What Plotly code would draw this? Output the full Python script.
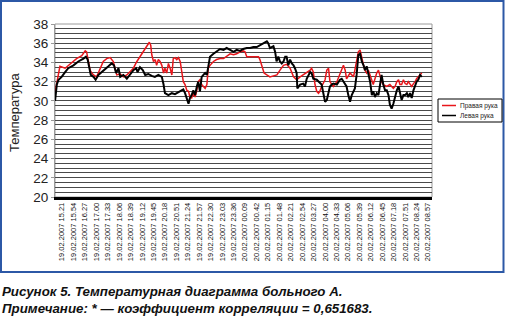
import plotly.graph_objects as go

# minutes after 19.02.2007 15:21
red_t = [-20, -15, -6, 9, 18, 33, 42, 57, 67, 71, 76, 81, 86, 91, 100, 110, 119, 129, 139, 148, 153, 158, 168, 177, 187, 196, 206, 216, 225, 235, 244, 252, 256, 259, 264, 269, 273, 278, 283, 288, 293, 297, 302, 307, 312, 317, 321, 326, 331, 336, 341, 345, 350, 355, 360, 365, 369, 374, 379, 384, 389, 393, 398, 403, 408, 413, 418, 422, 427, 437, 446, 456, 466, 475, 485, 495, 504, 514, 523, 528, 533, 543, 557, 567, 571, 576, 583, 591, 600, 610, 620, 629, 639, 648, 658, 668, 677, 687, 696, 706, 716, 720, 725, 730, 735, 740, 744, 749, 754, 759, 764, 769, 773, 783, 793, 802, 807, 812, 817, 821, 831, 841, 845, 850, 855, 860, 865, 870, 874, 879, 884, 889, 894, 898, 903, 908, 913, 918, 922, 927, 937, 946, 951, 956, 961, 966, 971, 975, 980, 985, 990, 995, 999, 1004, 1009, 1014, 1019, 1023, 1028, 1033, 1038]
red_v = [30.9, 32.0, 33.6, 33.4, 33.7, 34.1, 34.4, 34.7, 35.2, 35.1, 34.1, 33.2, 32.9, 32.7, 32.5, 33.4, 34.1, 34.4, 34.5, 34.1, 33.4, 32.7, 32.8, 32.5, 32.7, 33.0, 33.4, 34.1, 34.6, 35.1, 35.7, 36.1, 35.8, 34.8, 34.1, 34.3, 33.7, 34.3, 34.1, 33.7, 32.9, 33.4, 32.9, 33.9, 33.4, 32.7, 34.4, 34.5, 34.3, 34.5, 34.1, 32.9, 32.0, 31.7, 31.1, 31.0, 30.4, 30.3, 30.8, 30.4, 31.1, 32.0, 32.2, 31.7, 31.5, 31.3, 31.7, 33.4, 33.7, 34.1, 34.3, 34.4, 34.4, 34.6, 34.9, 34.8, 34.9, 35.1, 35.2, 35.1, 34.6, 34.6, 34.6, 34.6, 34.3, 33.6, 32.9, 32.7, 32.5, 32.6, 32.7, 33.2, 33.7, 33.8, 33.4, 32.5, 32.2, 32.5, 32.7, 32.9, 33.2, 33.4, 33.0, 31.7, 31.0, 30.8, 31.0, 31.5, 31.8, 32.2, 33.2, 33.4, 32.0, 31.5, 32.0, 32.9, 33.4, 33.7, 33.2, 32.3, 32.9, 32.5, 33.2, 34.1, 35.1, 35.3, 34.4, 33.7, 33.2, 32.9, 33.2, 32.7, 32.0, 31.7, 32.3, 32.9, 33.2, 32.5, 32.0, 31.7, 31.5, 31.7, 31.5, 31.3, 31.5, 32.0, 32.2, 31.7, 31.7, 32.2, 31.8, 31.7, 32.0, 31.7, 31.5, 31.8, 32.0, 32.3, 32.5, 32.8, 32.9]

black_t = [-20, -15, -10, -1, 9, 18, 33, 47, 62, 69, 74, 79, 83, 91, 97, 105, 115, 124, 134, 143, 150, 156, 163, 168, 177, 187, 196, 206, 214, 218, 225, 233, 240, 249, 259, 268, 278, 288, 293, 297, 307, 317, 326, 336, 345, 350, 355, 360, 365, 369, 374, 379, 384, 389, 393, 398, 403, 408, 413, 418, 422, 427, 437, 446, 456, 466, 475, 485, 495, 504, 514, 523, 533, 543, 552, 562, 571, 581, 591, 595, 600, 605, 610, 615, 619, 624, 629, 634, 639, 644, 648, 653, 658, 663, 668, 672, 677, 679, 687, 696, 701, 706, 711, 716, 720, 725, 735, 744, 749, 754, 759, 764, 769, 773, 778, 783, 793, 797, 802, 807, 812, 817, 821, 826, 831, 836, 841, 845, 850, 855, 860, 865, 870, 874, 879, 884, 889, 894, 898, 903, 908, 913, 918, 922, 927, 932, 937, 942, 946, 951, 956, 961, 966, 971, 975, 980, 985, 990, 995, 999, 1004, 1009, 1014, 1019, 1023, 1028, 1033, 1038]
black_v = [30.0, 31.7, 32.2, 32.5, 33.0, 33.4, 33.7, 34.1, 34.4, 34.6, 34.3, 33.2, 32.7, 32.5, 32.2, 32.7, 33.0, 33.2, 33.6, 33.9, 33.7, 32.9, 33.4, 32.5, 32.7, 32.3, 32.7, 33.2, 33.4, 33.0, 33.5, 33.2, 32.7, 32.8, 32.6, 32.5, 32.7, 32.5, 31.7, 30.8, 30.6, 30.8, 30.7, 30.9, 31.1, 31.2, 30.8, 30.1, 29.7, 30.3, 30.6, 31.1, 30.6, 31.5, 32.0, 31.0, 32.5, 32.7, 32.9, 32.7, 33.7, 34.6, 34.9, 35.1, 35.4, 35.3, 35.5, 35.3, 35.1, 35.3, 35.2, 35.4, 35.5, 35.5, 35.6, 35.6, 35.8, 36.0, 36.2, 36.0, 35.5, 35.6, 35.7, 35.1, 34.1, 34.6, 34.1, 33.9, 34.1, 34.6, 34.6, 33.7, 34.3, 33.9, 33.7, 33.4, 32.9, 31.3, 31.7, 31.8, 31.5, 32.3, 32.7, 33.0, 32.9, 32.3, 32.2, 31.8, 31.7, 30.8, 29.9, 30.1, 31.0, 31.5, 31.7, 31.8, 31.7, 32.0, 32.2, 32.3, 32.0, 31.7, 31.5, 30.6, 29.9, 30.6, 31.0, 31.3, 32.7, 34.8, 34.9, 34.1, 33.7, 33.2, 33.6, 32.7, 32.0, 30.6, 31.0, 30.4, 30.8, 30.6, 31.7, 32.7, 31.7, 31.1, 31.1, 30.6, 29.6, 29.2, 29.7, 30.6, 31.1, 31.5, 30.8, 30.1, 30.6, 30.6, 30.8, 30.4, 30.8, 30.3, 31.1, 31.5, 32.0, 32.2, 32.7, 32.5]

tick_minutes = list(range(0, 1057, 33))
tick_labels = [
    "19.02.2007 15.21", "19.02.2007 15.54", "19.02.2007 16.27", "19.02.2007 17.00",
    "19.02.2007 17.33", "19.02.2007 18.06", "19.02.2007 18.39", "19.02.2007 19.12",
    "19.02.2007 19.45", "19.02.2007 20.18", "19.02.2007 20.51", "19.02.2007 21.24",
    "19.02.2007 21.57", "19.02.2007 22.30", "19.02.2007 23.03", "19.02.2007 23.36",
    "20.02.2007 00.09", "20.02.2007 00.42", "20.02.2007 01.15", "20.02.2007 01.48",
    "20.02.2007 02.21", "20.02.2007 02.54", "20.02.2007 03.27", "20.02.2007 04.00",
    "20.02.2007 04.33", "20.02.2007 05.06", "20.02.2007 05.39", "20.02.2007 06.12",
    "20.02.2007 06.45", "20.02.2007 07.18", "20.02.2007 07.51", "20.02.2007 08.24",
    "20.02.2007 08.57",
]
series_names = ["Правая рука", "Левая рука"]
y_ticks = list(range(20, 39, 2))

RED = "#e8161b"
FONT = "Liberation Sans, Arial, sans-serif"

fig = go.Figure()
fig.add_trace(go.Scatter(x=red_t, y=red_v, mode="lines", name=series_names[0],
                         line=dict(color=RED, width=1.5), showlegend=False))
fig.add_trace(go.Scatter(x=black_t, y=black_v, mode="lines", name=series_names[1],
                         line=dict(color="#000000", width=2), showlegend=False))

L, R, T, B = 55, 432, 24, 197
W = R - L
H = B - T
def px(x):
    return (x - L) / W
def py(y):
    return (B - y) / H

shapes = [
    # outer blue frame
    dict(type="rect", xref="paper", yref="paper", x0=px(1), x1=px(503.5), y0=py(1), y1=py(272),
         line=dict(color="#2c58a6", width=2), layer="below"),
    # plot frame
    dict(type="rect", xref="paper", yref="paper", x0=0, x1=1, y0=0, y1=1,
         line=dict(color="#9a9a9a", width=1), layer="below"),
    # legend box
    dict(type="rect", xref="paper", yref="paper", x0=px(438), x1=px(502), y0=py(122), y1=py(99),
         line=dict(color="#000000", width=1), fillcolor="white"),
    dict(type="line", xref="paper", yref="paper", x0=px(442), x1=px(456), y0=py(105.5), y1=py(105.5),
         line=dict(color=RED, width=1.5)),
    dict(type="line", xref="paper", yref="paper", x0=px(442), x1=px(456), y0=py(115.5), y1=py(115.5),
         line=dict(color="#000000", width=1.5)),
]

annotations = [
    dict(xref="paper", yref="paper", x=px(458), y=py(105.5), text=series_names[0], showarrow=False,
         xanchor="left", yanchor="middle", font=dict(family=FONT, size=6.5, color="#222")),
    dict(xref="paper", yref="paper", x=px(458), y=py(115.5), text=series_names[1], showarrow=False,
         xanchor="left", yanchor="middle", font=dict(family=FONT, size=6.5, color="#222")),
    dict(xref="paper", yref="paper", x=px(14), y=py(112), text="Температура", textangle=-90,
         showarrow=False, xanchor="center", yanchor="middle", font=dict(family=FONT, size=13, color="#222")),
    dict(xref="paper", yref="paper", x=px(0), y=py(291), text="<b><i>Рисунок 5. Температурная диаграмма больного А.</i></b>",
         showarrow=False, xanchor="left", yanchor="middle", font=dict(family=FONT, size=13.3, color="#111")),
    dict(xref="paper", yref="paper", x=px(0), y=py(308), text="<b><i>Примечание: * — коэффициент корреляции = 0,651683.</i></b>",
         showarrow=False, xanchor="left", yanchor="middle", font=dict(family=FONT, size=13.3, color="#111")),
]

fig.update_layout(
    width=505, height=320,
    margin=dict(l=L, r=505 - R, t=T, b=320 - B),
    paper_bgcolor="white", plot_bgcolor="white",
    font=dict(family=FONT, color="#222"),
    shapes=shapes, annotations=annotations,
    showlegend=False,
)
fig.update_xaxes(
    range=[-20.2, 1067.5], tickmode="array", tickvals=tick_minutes, ticktext=tick_labels,
    tickangle=-90, tickfont=dict(family=FONT, size=7.5, color="#111"),
    showgrid=False, zeroline=False, showline=True, linecolor="#000", linewidth=2.5,
    ticks="", fixedrange=True,
)
fig.update_yaxes(
    range=[20, 38], tickvals=y_ticks, tickfont=dict(family=FONT, size=13.5, color="#222"),
    showgrid=True, gridcolor="#4a4a4a", gridwidth=1,
    minor=dict(dtick=0.5, tick0=20, showgrid=True, gridcolor="#4a4a4a", gridwidth=1),
    zeroline=False, showline=True, linecolor="#9a9a9a", linewidth=1,
    ticks="outside", ticklen=3, tickcolor="#9a9a9a", fixedrange=True,
)

fig.write_html("out.html")
